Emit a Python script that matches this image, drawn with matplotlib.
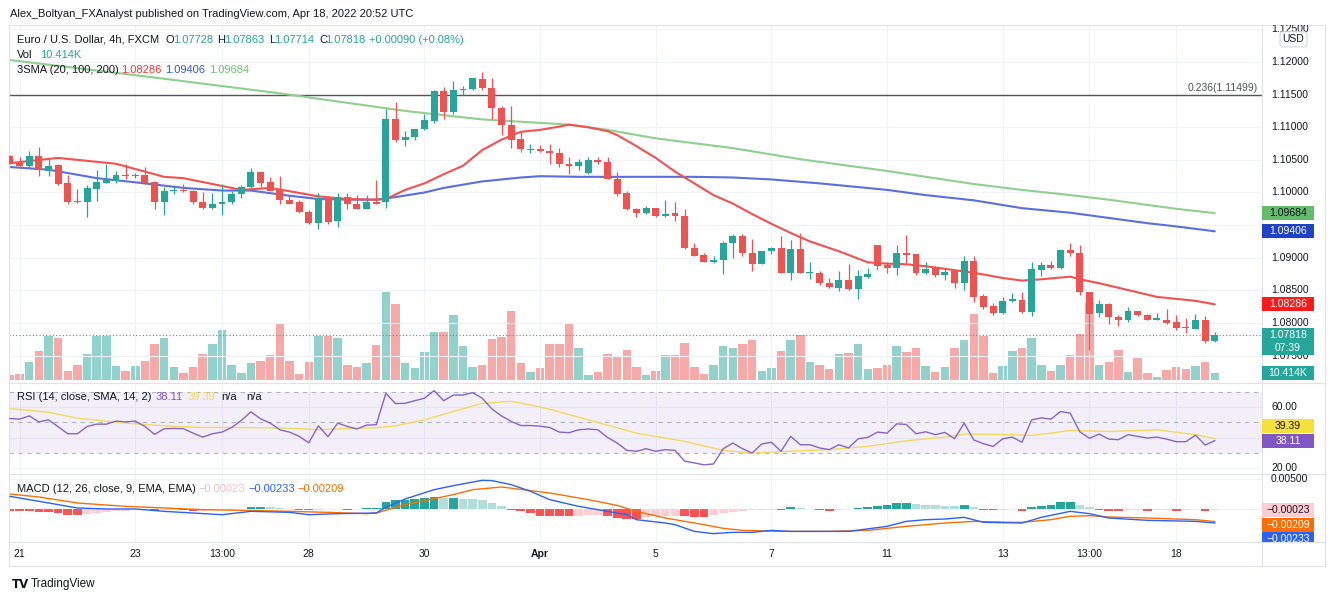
import numpy as np
import matplotlib
matplotlib.use('Agg')
import matplotlib.pyplot as plt
from matplotlib.patches import Rectangle
from matplotlib.transforms import blended_transform_factory as blend

plt.rcParams['font.family'] = ['Liberation Sans', 'DejaVu Sans']

# EURUSD 4h candles
opens = [
    1.1056, 1.1045, 1.1040, 1.1056, 1.1033, 1.1042, 1.1014, 1.0987, 1.0985, 1.1006,
    1.1015, 1.1018, 1.1027, 1.1025, 1.1027, 1.1016, 1.0986, 1.1002, 1.1003, 1.1003,
    1.0985, 1.0977, 1.0983, 1.0985, 1.0997, 1.1009, 1.1032, 1.1016, 1.1005, 1.0988,
    1.0985, 1.0970, 1.0954, 1.0992, 1.0956, 1.0993, 1.0983, 1.0975, 1.0986, 1.0985,
    1.1112, 1.1080, 1.1085, 1.1097, 1.1109, 1.1156, 1.1124, 1.1157, 1.1158, 1.1174,
    1.1160, 1.1129, 1.1103, 1.1082, 1.1066, 1.1067, 1.1064, 1.1061, 1.1044, 1.1040,
    1.1030, 1.1050, 1.1047, 1.1021, 1.0999, 1.0974, 1.0968, 1.0976, 1.0964, 1.0968,
    1.0964, 1.0915, 1.0904, 1.0894, 1.0896, 1.0922, 1.0933, 1.0908, 1.0890, 1.0911,
    1.0915, 1.0877, 1.0914, 1.0877, 1.0877, 1.0862, 1.0854, 1.0866, 1.0852, 1.0871,
    1.0919, 1.0889, 1.0885, 1.0907, 1.0905, 1.0876, 1.0886, 1.0874, 1.0880, 1.0861,
    1.0895, 1.0842, 1.0826, 1.0815, 1.0833, 1.0836, 1.0817, 1.0881, 1.0889, 1.0884,
    1.0912, 1.0907, 1.0847, 1.0815, 1.0829, 1.0809, 1.0805, 1.0818, 1.0813, 1.0805,
    1.0804, 1.0801, 1.0793, 1.0791, 1.0805, 1.07728]
highs = [
    1.1058, 1.1054, 1.1064, 1.1069, 1.1051, 1.1044, 1.1027, 1.1005, 1.1012, 1.1035,
    1.1044, 1.1033, 1.1044, 1.1030, 1.1039, 1.1017, 1.1008, 1.1010, 1.1013, 1.1004,
    1.1000, 1.0999, 1.1013, 1.1003, 1.1011, 1.1038, 1.1032, 1.1023, 1.1026, 1.0996,
    1.0988, 1.0973, 1.0999, 1.0994, 1.0999, 1.0999, 1.0996, 1.0996, 1.1019, 1.1128,
    1.1138, 1.1095, 1.1098, 1.1120, 1.1157, 1.1162, 1.1171, 1.1163, 1.1175, 1.1184,
    1.1175, 1.1132, 1.1133, 1.1093, 1.1075, 1.1073, 1.1075, 1.1068, 1.1054, 1.1052,
    1.1054, 1.1054, 1.1054, 1.1031, 1.1002, 1.0976, 1.0980, 1.0976, 1.0989, 1.0985,
    1.0975, 1.0922, 1.0907, 1.0903, 1.0925, 1.0937, 1.0937, 1.0928, 1.0911, 1.0916,
    1.0934, 1.0927, 1.0938, 1.0893, 1.0880, 1.0869, 1.0879, 1.0891, 1.0881, 1.0885,
    1.0920, 1.0893, 1.0920, 1.0935, 1.0906, 1.0894, 1.0887, 1.0882, 1.0880, 1.0903,
    1.0902, 1.0844, 1.0831, 1.0840, 1.0846, 1.0847, 1.0894, 1.0893, 1.0895, 1.0912,
    1.0922, 1.0919, 1.0847, 1.0836, 1.0830, 1.0813, 1.0824, 1.0818, 1.0814, 1.0815,
    1.0822, 1.0812, 1.0807, 1.0814, 1.0810, 1.07863]
lows = [
    1.1044, 1.1037, 1.1037, 1.1026, 1.1026, 1.1011, 1.0983, 1.0984, 1.0962, 1.0987,
    1.1014, 1.1015, 1.1020, 1.1022, 1.1013, 1.0975, 1.0965, 1.0997, 1.1000, 1.0982,
    1.0974, 1.0974, 1.0966, 1.0982, 1.0991, 1.1007, 1.1008, 1.1002, 1.0983, 1.0982,
    1.0968, 1.0952, 1.0944, 1.0951, 1.0947, 1.0975, 1.0974, 1.0974, 1.0982, 1.0977,
    1.1078, 1.1072, 1.1080, 1.1096, 1.1106, 1.1113, 1.1120, 1.1150, 1.1157, 1.1157,
    1.1113, 1.1088, 1.1068, 1.1062, 1.1060, 1.1062, 1.1044, 1.1039, 1.1029, 1.1034,
    1.1029, 1.1043, 1.1020, 1.0995, 1.0973, 1.0962, 1.0967, 1.0963, 1.0963, 1.0957,
    1.0914, 1.0902, 1.0893, 1.0892, 1.0875, 1.0899, 1.0902, 1.0879, 1.0890, 1.0906,
    1.0876, 1.0866, 1.0876, 1.0868, 1.0858, 1.0854, 1.0849, 1.0850, 1.0837, 1.0869,
    1.0881, 1.0877, 1.0874, 1.0892, 1.0873, 1.0875, 1.0870, 1.0866, 1.0853, 1.0851,
    1.0832, 1.0821, 1.0812, 1.0814, 1.0832, 1.0815, 1.0810, 1.0872, 1.0883, 1.0883,
    1.0903, 1.0843, 1.0759, 1.0809, 1.0799, 1.0796, 1.0801, 1.0811, 1.0805, 1.0805,
    1.0798, 1.0789, 1.0784, 1.0791, 1.0770, 1.07714]
closes = [
    1.1044, 1.1041, 1.1056, 1.1034, 1.1041, 1.1013, 1.0986, 1.0985, 1.1007, 1.1016,
    1.1019, 1.1027, 1.1025, 1.1027, 1.1015, 1.0986, 1.1003, 1.1003, 1.1002, 1.0985,
    1.0977, 1.0983, 1.0985, 1.0997, 1.1009, 1.1032, 1.1015, 1.1003, 1.0988, 1.0982,
    1.0970, 1.0953, 1.0991, 1.0955, 1.0993, 1.0982, 1.0974, 1.0986, 1.0983, 1.1112,
    1.1080, 1.1085, 1.1098, 1.1111, 1.1156, 1.1124, 1.1157, 1.1158, 1.1175, 1.1160,
    1.1129, 1.1103, 1.1081, 1.1066, 1.1067, 1.1064, 1.1060, 1.1043, 1.1040, 1.1047,
    1.1050, 1.1047, 1.1021, 1.0997, 1.0974, 1.0968, 1.0976, 1.0964, 1.0967, 1.0964,
    1.0915, 1.0902, 1.0894, 1.0897, 1.0923, 1.0933, 1.0907, 1.0890, 1.0911, 1.0915,
    1.0877, 1.0914, 1.0877, 1.0878, 1.0861, 1.0855, 1.0866, 1.0852, 1.0872, 1.0875,
    1.0887, 1.0885, 1.0907, 1.0904, 1.0877, 1.0882, 1.0873, 1.0878, 1.0861, 1.0895,
    1.0840, 1.0825, 1.0815, 1.0834, 1.0837, 1.0817, 1.0882, 1.0889, 1.0884, 1.0912,
    1.0907, 1.0847, 1.0814, 1.0829, 1.0809, 1.0805, 1.0818, 1.0812, 1.0805, 1.0808,
    1.0800, 1.0792, 1.0792, 1.0805, 1.0772, 1.07818]
volumes_k = [
    8, 9, 27, 44, 65, 62, 13, 23, 39, 65,
    65, 21, 13, 21, 29, 53, 62, 19, 10, 20,
    39, 53, 74, 23, 10, 25, 29, 38, 85, 29,
    9, 27, 66, 66, 63, 23, 20, 26, 52, 131,
    114, 26, 18, 42, 71, 71, 97, 50, 19, 23,
    61, 64, 103, 26, 12, 18, 54, 54, 85, 48,
    8, 12, 39, 36, 45, 19, 8, 14, 37, 37,
    55, 19, 9, 22, 50, 48, 54, 60, 13, 18,
    44, 60, 67, 27, 22, 17, 39, 40, 54, 16,
    18, 23, 50, 42, 48, 21, 12, 19, 48, 60,
    99, 65, 10, 21, 44, 48, 63, 22, 13, 22,
    37, 68, 117, 23, 27, 45, 12, 33, 10, 5,
    15, 19, 17, 21, 27, 10.414]

# moving averages, read at some bars
sma20_idx = [0, 5, 9, 11, 14, 16, 18, 22, 24, 27, 29, 32, 35, 38, 39, 41, 43, 45, 47, 49,
             51, 53, 55, 57, 58, 60, 62, 63, 65, 67, 69, 71, 73, 75, 77, 79, 81, 83, 84, 86,
             89, 91, 93, 95, 98, 100, 103, 105, 107, 110, 111, 113, 115, 117, 119, 121, 123, 125]
sma20_val = [1.1045, 1.1053, 1.1047, 1.1044, 1.1032, 1.1024, 1.1022, 1.1010, 1.1004, 1.1007,
             1.1002, 1.0994, 1.0990, 1.0989, 1.0990, 1.1004, 1.1014, 1.1028, 1.1041, 1.1065,
             1.1081, 1.1093, 1.1096, 1.1101, 1.1104, 1.1100, 1.1094, 1.1088, 1.1071, 1.1053,
             1.1032, 1.1014, 1.0996, 1.0983, 1.0967, 1.0952, 1.0938, 1.0925, 1.0920, 1.0910,
             1.0893, 1.0891, 1.0890, 1.0887, 1.0881, 1.0877, 1.0869, 1.0865, 1.0867, 1.0871,
             1.0867, 1.0861, 1.0854, 1.0847, 1.0840, 1.0837, 1.0834, 1.08286]
sma100_idx = [0, 4, 9, 14, 18, 22, 25, 29, 32, 35, 38, 40, 43, 45, 49, 53, 55, 59, 63, 67,
              71, 75, 79, 84, 91, 95, 100, 105, 110, 114, 118, 121, 125]
sma100_val = [1.1039, 1.1035, 1.1022, 1.1014, 1.1007, 1.1003, 1.1003, 1.0995, 1.0990, 1.0989,
              1.0989, 1.0993, 1.1000, 1.1007, 1.1017, 1.1023, 1.1025, 1.1024, 1.1024, 1.1024,
              1.1024, 1.1023, 1.1020, 1.1014, 1.1004, 1.0996, 1.0988, 1.0976, 1.0969, 1.0961,
              1.0953, 1.0948, 1.09406]
sma200_idx = [0, 14, 28, 41, 49, 58, 62, 67, 75, 82, 91, 100, 105, 110, 114, 121, 125]
sma200_val = [1.1203, 1.1178, 1.1152, 1.1125, 1.1112, 1.1104, 1.1096, 1.1083, 1.1068, 1.1051,
              1.1033, 1.1013, 1.1004, 1.0996, 1.0989, 1.0975, 1.09684]
fib_level = 1.11499

rsi = [
    52.6, 52.2, 54.3, 50.4, 51.7, 47.2, 42.6, 42.6, 47.4, 48.9,
    48.9, 50.9, 50.4, 50.9, 47.4, 42.2, 45.9, 46.1, 45.9, 43.0,
    40.4, 42.6, 43.7, 46.7, 51.3, 57.0, 52.4, 49.6, 45.2, 43.7,
    40.9, 36.7, 47.8, 40.7, 49.6, 47.4, 45.7, 48.3, 48.5, 69.1,
    62.4, 62.6, 64.3, 65.9, 70.9, 64.3, 68.0, 68.0, 69.6, 65.9,
    58.9, 54.3, 50.7, 48.0, 48.0, 47.6, 46.7, 43.7, 43.3, 45.2,
    45.7, 45.2, 40.2, 36.5, 31.7, 31.1, 32.8, 31.1, 32.2, 31.7,
    24.6, 23.5, 22.2, 22.8, 32.8, 36.5, 32.8, 30.0, 35.9, 37.0,
    31.1, 40.9, 35.4, 35.4, 33.3, 32.2, 35.4, 33.3, 39.3, 40.2,
    43.7, 43.0, 49.1, 48.7, 42.6, 43.9, 42.0, 43.5, 39.3, 49.6,
    38.5, 36.1, 34.3, 39.3, 40.4, 37.0, 51.7, 53.0, 52.2, 57.2,
    56.1, 43.9, 39.6, 42.4, 39.1, 38.7, 42.0, 40.9, 39.8, 40.4,
    39.1, 37.4, 37.4, 41.7, 35.2, 38.11]
rsi_ma_idx = [0, 4, 7, 12, 16, 20, 24, 29, 32, 35, 38, 40, 43, 46, 49, 52, 54, 56, 60, 65,
              70, 74, 77, 80, 85, 89, 93, 97, 99, 104, 106, 108, 110, 114, 119, 123, 125]
rsi_ma_val = [59.1, 56.7, 52.8, 49.6, 47.8, 46.7, 46.7, 46.3, 45.2, 46.1, 46.5, 47.8, 51.7,
              57.2, 62.6, 63.9, 61.5, 58.7, 51.7, 43.0, 37.6, 31.7, 30.0, 30.9, 32.2, 34.3,
              38.0, 40.4, 42.4, 42.0, 41.5, 43.0, 44.8, 44.1, 45.2, 42.0, 39.39]

macd_hist = [
    -0.00028, -0.00028, -0.00039, -0.00050, -0.00056, -0.00067, -0.00095, -0.00095, -0.00090, -0.00067,
    -0.00056, -0.00039, -0.00028, -0.00022, -0.00020, -0.00039, -0.00022, -0.00020, -0.00025, -0.00035,
    -0.00030, -0.00017, -0.00011, -0.00010, -0.00008, 0.00039, 0.00040, 0.00028, 0.00013, 0.00008,
    -0.00011, -0.00013, -0.00010, -0.00006, -0.00005, -0.00011, -0.00003, 0.00018, 0.00020, 0.00111,
    0.00145, 0.00156, 0.00167, 0.00183, 0.00200, 0.00178, 0.00183, 0.00167, 0.00165, 0.00145,
    0.00100, 0.00056, -0.00022, -0.00039, -0.00067, -0.00111, -0.00122, -0.00122, -0.00124, -0.00111,
    -0.00108, -0.00095, -0.00122, -0.00150, -0.00167, -0.00170, -0.00133, -0.00122, -0.00120, -0.00115,
    -0.00125, -0.00133, -0.00135, -0.00095, -0.00067, -0.00050, -0.00039, -0.00022, -0.00017, -0.00011,
    -0.00022, 0.00025, 0.00011, 0.00006, -0.00022, -0.00028, -0.00011, -0.00006, 0.00018, 0.00033,
    0.00056, 0.00072, 0.00098, 0.00100, 0.00089, 0.00072, 0.00070, 0.00056, 0.00045, 0.00063,
    0.00035, -0.00011, -0.00022, -0.00011, -0.00006, -0.00028, 0.00033, 0.00056, 0.00072, 0.00117,
    0.00119, 0.00072, 0.00033, -0.00011, -0.00028, -0.00039, -0.00022, -0.00020, -0.00028, -0.00022,
    -0.00017, -0.00028, -0.00011, -0.00006, -0.00030, -0.00023]
macd_idx = [0, 3, 7, 10, 13, 16, 19, 22, 25, 29, 31, 34, 38, 39, 41, 44, 46, 49, 50, 52, 54, 56,
            59, 62, 64, 65, 68, 69, 71, 73, 75, 77, 79, 81, 85, 87, 91, 93, 95, 97, 99, 101, 105,
            107, 110, 112, 114, 118, 123, 125]
macd_val = [0.00211, 0.00128, 0.00017, 0.0, 0.0, -0.00039, -0.00067, -0.00095, -0.00039, -0.00056,
            -0.00095, -0.00078, -0.00067, 0.00030, 0.00167, 0.00322, 0.00389, 0.00478, 0.00473,
            0.00406, 0.00295, 0.00156, 0.00044, -0.00039, -0.00095, -0.00178, -0.00234, -0.00261,
            -0.00373, -0.00411, -0.00389, -0.00389, -0.00356, -0.00373, -0.00373, -0.00373,
            -0.00289, -0.00206, -0.00178, -0.00167, -0.00139, -0.00222, -0.00234, -0.00139,
            -0.00039, -0.00078, -0.00150, -0.00189, -0.00206, -0.00233]
signal_idx = [0, 3, 7, 12, 16, 20, 24, 29, 33, 37, 38, 41, 46, 48, 51, 56, 60, 63, 65, 68, 72,
              74, 76, 80, 85, 89, 93, 97, 100, 104, 105, 108, 110, 112, 114, 118, 123, 125]
signal_val = [0.00250, 0.00200, 0.00100, 0.00044, 0.00017, -0.00011, -0.00022, -0.00039, -0.00056,
              -0.00078, -0.00067, 0.00072, 0.00239, 0.00322, 0.00367, 0.00267, 0.00156, 0.00060,
              -0.00040, -0.00150, -0.00261, -0.00322, -0.00356, -0.00373, -0.00373, -0.00356,
              -0.00289, -0.00234, -0.00206, -0.00222, -0.00222, -0.00178, -0.00122, -0.00111,
              -0.00133, -0.00150, -0.00178, -0.00209]

tick_idx = [1, 13, 22, 31, 43, 55, 67, 79, 91, 103, 112, 121]
tick_lbl = ['21', '23', '13:00', '28', '30', 'Apr', '5', '7', '11', '13', '13:00', '18']
# 1.09500 sits under the SMA tags in the original, so it is not labelled
price_ticks = [1.125, 1.12, 1.115, 1.11, 1.105, 1.10, 1.095, 1.09, 1.085, 1.08, 1.075]
price_labels = [1.125, 1.12, 1.115, 1.11, 1.105, 1.10, 1.09, 1.085, 1.08, 1.075]

# colours
TEAL = '#26a69a'
RED = '#ef5350'
TXT = '#131722'
GRID = '#f0f3fa'
BORDER = '#e0e3eb'
C20, C100, C200 = '#f5514e', '#5a6fe0', '#8fd08f'

W, H = 1332, 599
fig = plt.figure(figsize=(W / 100, H / 100), dpi=100)
fig.patch.set_facecolor('white')


def rect(x0, y0, x1, y1):
    return [x0 / W, 1 - y1 / H, (x1 - x0) / W, (y1 - y0) / H]


def clean(a, spines=('left', 'right', 'top', 'bottom')):
    a.set_xticks([])
    a.set_yticks([])
    for k, s in a.spines.items():
        s.set_visible(k in spines)
        s.set_color(BORDER)
        s.set_linewidth(0.8)


PL, PR, SR = 9, 1262, 1325
XL = (-0.1, 129.9)
n = len(closes)
idx = np.arange(n)
o, h, l, c = map(np.array, (opens, highs, lows, closes))
up = c >= o

# ---- main pane: volume first (behind), then price
axv = fig.add_axes(rect(PL, 25, PR, 383))
axv.bar(idx, volumes_k, width=0.88, color=np.where(up, '#92d2cc', '#f7a9a7'), lw=0)
axv.set_xlim(*XL)
axv.set_ylim(-4.5, 530)
clean(axv, ())

ax = fig.add_axes(rect(PL, 25, PR, 383))
ax.patch.set_alpha(0)
ax.set_xlim(*XL)
ax.set_ylim(1.070805, 1.125670)
clean(ax)
for p in price_ticks:
    ax.axhline(p, color=GRID, lw=0.8, zorder=0)
for t in tick_idx:
    ax.axvline(t, color=GRID, lw=0.8, zorder=0)

ax.axhline(fib_level, color='#555555', lw=1.0, zorder=1)
ax.text(0.997, fib_level + 0.00025, '0.236(1.11499)', transform=blend(ax.transAxes, ax.transData),
        ha='right', va='bottom', fontsize=7.5, color='#50535e')

ax.plot(sma200_idx, sma200_val, color=C200, lw=1.5, zorder=2, solid_capstyle='round')
ax.plot(sma100_idx, sma100_val, color=C100, lw=1.5, zorder=2, solid_capstyle='round')
ax.plot(sma20_idx, sma20_val, color=C20, lw=1.5, zorder=2, solid_capstyle='round')

cols = np.where(up, TEAL, RED)
ax.vlines(idx, l, h, colors=cols, lw=0.9, zorder=3)
body = np.abs(c - o)
minh = 0.00018
bh = np.maximum(body, minh)
bb = np.minimum(o, c) - (bh - body) / 2
ax.bar(idx, bh, bottom=bb, width=0.72, color=cols, lw=0, zorder=4)
ax.axhline(closes[-1], color=TEAL, lw=0.8, ls=(0, (1, 2)), zorder=1)

# legend text
fig.text(10 / W, 1 - 14 / H, 'Alex_Boltyan_FXAnalyst published on TradingView.com, Apr 18, 2022 20:52 UTC',
         fontsize=8, color=TXT, va='center')
y1 = 1 - 40 / H
fig.text(17 / W, y1, 'Euro / U.S. Dollar, 4h, FXCM', fontsize=8, color=TXT, va='center')
for lx, lab, vx, val in [(166, 'O', 173, opens[-1]), (217, 'H', 224, highs[-1]),
                         (269, 'L', 274, lows[-1]), (319, 'C', 325, closes[-1])]:
    fig.text(lx / W, y1, lab, fontsize=8, color=TXT, va='center')
    fig.text(vx / W, y1, f'{val:.5f}', fontsize=8, color=TEAL, va='center')
fig.text(369 / W, y1, '+0.00090 (+0.08%)', fontsize=8, color=TEAL, va='center')
fig.text(17 / W, 1 - 55 / H, 'Vol', fontsize=8, color=TXT, va='center')
fig.text(40 / W, 1 - 55 / H, '10.414K', fontsize=8, color=TEAL, va='center')
y3 = 1 - 70 / H
fig.text(17 / W, y3, '3SMA (20, 100, 200)', fontsize=8, color=TXT, va='center')
fig.text(121 / W, y3, f'{sma20_val[-1]:.5f}', fontsize=8, color='#ff3030', va='center')
fig.text(165 / W, y3, f'{sma100_val[-1]:.5f}', fontsize=8, color='#2f55e0', va='center')
fig.text(209 / W, y3, f'{sma200_val[-1]:.5f}', fontsize=8, color='#6cc46c', va='center')

# ---- RSI pane
axr = fig.add_axes(rect(PL, 383, PR, 474))
axr.set_xlim(*XL)
axr.set_ylim(16.2, 75.9)
clean(axr)
for g in (20, 40, 60):
    axr.axhline(g, color=GRID, lw=0.8, zorder=0)
for t in tick_idx:
    axr.axvline(t, color=GRID, lw=0.8, zorder=0)
axr.axhspan(30, 70, color='#7e57c2', alpha=0.09, lw=0, zorder=0)
for g in (70, 50, 30):
    axr.axhline(g, color='#b2b5be', lw=0.8, ls=(0, (4, 4)), zorder=1)
axr.plot(rsi_ma_idx, rsi_ma_val, color='#f5d95c', lw=1.0, zorder=2)
axr.plot(idx, rsi, color='#8763cf', lw=1.0, zorder=3)
yr = 1 - 397 / H
fig.text(17 / W, yr, 'RSI (14, close, SMA, 14, 2)', fontsize=8, color=TXT, va='center')
fig.text(156 / W, yr, f'{rsi[-1]:.2f}', fontsize=8, color='#7e57c2', va='center')
fig.text(188 / W, yr, f'{rsi_ma_val[-1]:.2f}', fontsize=8, color='#f5d95c', va='center')
fig.text(221 / W, yr, 'n/a', fontsize=8, color=TXT, va='center')
fig.text(246 / W, yr, 'n/a', fontsize=8, color=TXT, va='center')

# ---- MACD pane
axm = fig.add_axes(rect(PL, 474, PR, 542))
axm.set_xlim(*XL)
axm.set_ylim(-0.0055, 0.005833)
clean(axm)
for g in (0.005, 0.0):
    axm.axhline(g, color=GRID, lw=0.8, zorder=0)
for t in tick_idx:
    axm.axvline(t, color=GRID, lw=0.8, zorder=0)
hcols = []
prev = macd_hist[0]
for v in macd_hist:
    if v >= 0:
        hcols.append('#26a69a' if v >= prev else '#b2dfdb')
    else:
        hcols.append('#ffcdd2' if v > prev else '#ff5252')
    prev = v
axm.bar(idx, macd_hist, width=0.9, color=hcols, lw=0, zorder=1)
axm.plot(macd_idx, macd_val, color='#2962ff', lw=1.0, zorder=3)
axm.plot(signal_idx, signal_val, color='#ff6d00', lw=1.0, zorder=2)
ym = 1 - 489 / H
fig.text(17 / W, ym, 'MACD (12, 26, close, 9, EMA, EMA)', fontsize=8, color=TXT, va='center')
fig.text(198 / W, ym, '\u22120.00023', fontsize=8, color='#f8c0c6', va='center')
fig.text(248 / W, ym, '\u22120.00233', fontsize=8, color='#2962ff', va='center')
fig.text(297 / W, ym, '\u22120.00209', fontsize=8, color='#ff6d00', va='center')

# ---- time axis
axt = fig.add_axes(rect(PL, 542, PR, 566))
axt.set_xlim(*XL)
axt.set_ylim(0, 1)
clean(axt)
for t, lab in zip(tick_idx, tick_lbl):
    axt.text(t, 0.5, lab, ha='center', va='center', fontsize=7.5, color=TXT,
             fontweight='bold' if lab == 'Apr' else 'normal')
corner = fig.add_axes(rect(PR, 542, SR, 566))
clean(corner)


# ---- price scales
def scale(y0, y1, ref):
    s = fig.add_axes(rect(PR, y0, SR, y1))
    s.set_xlim(0, 1)
    s.set_ylim(*ref.get_ylim())
    s.patch.set_alpha(0)
    clean(s, ('right', 'top', 'bottom'))
    return s


def tag(s, ref, value, text, bg, fg, shift=0, extra=None):
    lo, hi = ref.get_ylim()
    ppu = ref.bbox.height / (hi - lo)
    yc = value + shift / ppu
    tr = blend(s.transAxes, ref.transData)
    add = 13 / ppu if extra else 0
    s.add_patch(Rectangle((0, yc - 7 / ppu - add), 52 / 63, 14 / ppu + add, transform=tr,
                          facecolor=bg, edgecolor='none', zorder=5))
    s.text(26 / 63, yc, text, transform=tr, ha='center', va='center', fontsize=7.5,
           color=fg, zorder=6, clip_on=True)
    if extra:
        s.text(26 / 63, yc - 13 / ppu, extra, transform=tr, ha='center', va='center',
               fontsize=7.5, color=fg, zorder=6, clip_on=True)


sp = scale(25, 383, ax)
for p in price_labels:
    sp.text(9 / 63, p, f'{p:.5f}', ha='left', va='center', fontsize=7.5, color=TXT, clip_on=True)
sp.text(0.5, 0.96, 'USD', transform=sp.transAxes, ha='center', va='center', fontsize=7.5, color=TXT,
        bbox=dict(boxstyle='round,pad=0.25,rounding_size=0.3', fc='white', ec='#d1d4dc', lw=0.8))
tag(sp, ax, sma200_val[-1], f'{sma200_val[-1]:.5f}', '#66bb6a', TXT)
tag(sp, ax, sma100_val[-1], f'{sma100_val[-1]:.5f}', '#2043c6', 'white')
tag(sp, ax, sma20_val[-1], f'{sma20_val[-1]:.5f}', '#ff1a1a', 'white')
tag(sp, ax, closes[-1], f'{closes[-1]:.5f}', TEAL, 'white', extra='07:39')
tag(sp, axv, volumes_k[-1], '10.414K', TEAL, 'white')

sr = scale(383, 474, axr)
for g in (60, 20):
    sr.text(9 / 63, g, f'{g:.2f}', ha='left', va='center', fontsize=7.5, color=TXT, clip_on=True)
tag(sr, axr, rsi_ma_val[-1], f'{rsi_ma_val[-1]:.2f}', '#f7e03c', TXT, shift=13)
tag(sr, axr, rsi[-1], f'{rsi[-1]:.2f}', '#7e57c2', 'white')

sm = scale(474, 542, axm)
sm.text(9 / 63, 0.005, '0.00500', ha='left', va='center', fontsize=7.5, color=TXT, clip_on=True)
tag(sm, axm, macd_hist[-1], '\u22120.00023', '#ffcdd2', TXT)
tag(sm, axm, signal_val[-1], '\u22120.00209', '#ff6d00', 'white', shift=-3.5)
tag(sm, axm, macd_val[-1], '\u22120.00233', '#2962ff', 'white', shift=-16)

# footer
fig.text(12 / W, 1 - 584 / H, 'TV', fontsize=8.5, fontweight='heavy', color=TXT, va='center',
         family='DejaVu Sans')
fig.text(31 / W, 1 - 584 / H, 'TradingView', fontsize=8.5, color=TXT, va='center')

fig.savefig('out.png', dpi=100, facecolor='white')
